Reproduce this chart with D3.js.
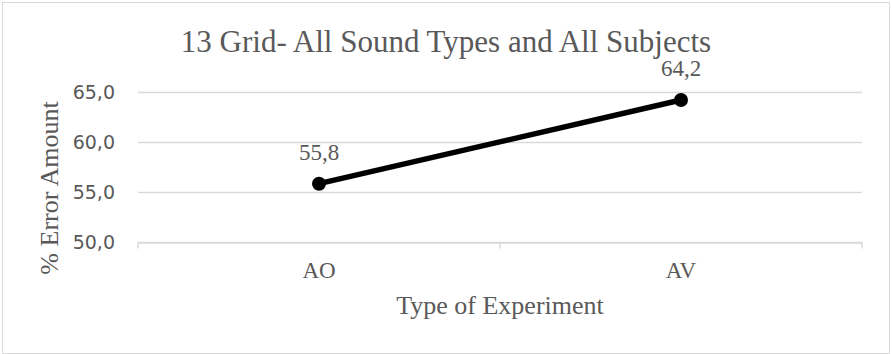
<!DOCTYPE html>
<html>
<head>
<meta charset="utf-8">
<script src="https://cdn.jsdelivr.net/npm/d3@7"></script>
<style>
  html, body { margin: 0; padding: 0; background: #fff; }
  svg { display: block; }
</style>
</head>
<body>
<svg id="chart" width="892" height="354"></svg>
<script>
// Chart data
const categories = ["AO", "AV"];
const values = [55.8, 64.2];
const yTicks = [50, 55, 60, 65];
const titleText = "13 Grid- All Sound Types and All Subjects";
const xTitle = "Type of Experiment";
const yTitle = "% Error Amount";

const W = 892, H = 354;
const plot = { left: 138, right: 862, top: 92, bottom: 241.5 };
const serif = "'Liberation Serif', 'Times New Roman', serif";
const sans = "'DejaVu Sans', Verdana, sans-serif";
const textColor = "#595959";
const gridColor = "#d9d9d9";

const svg = d3.select("#chart");

// Chart area frame
svg.append("rect")
  .attr("x", 2.5).attr("y", 2.5)
  .attr("width", W - 5).attr("height", H - 3)
  .attr("fill", "#fff").attr("stroke", gridColor).attr("stroke-width", 1);

const x = d3.scaleBand().domain(categories).range([plot.left, plot.right]);
const y = d3.scaleLinear().domain([50, 65]).range([plot.bottom, plot.top]);

// Horizontal gridlines
svg.append("g").selectAll("line").data(yTicks).join("line")
  .attr("x1", plot.left).attr("x2", plot.right)
  .attr("y1", d => Math.round(y(d)) + 0.5).attr("y2", d => Math.round(y(d)) + 0.5)
  .attr("stroke", gridColor).attr("stroke-width", 1.5);

// Category axis with tick marks between categories
const xAxis = d3.axisBottom(x).tickSize(0).tickPadding(0).tickFormat("");
const gx = svg.append("g")
  .attr("transform", `translate(0,${Math.round(y(50)) + 0.5})`)
  .call(xAxis);
gx.select(".domain").attr("stroke", gridColor).attr("stroke-width", 1.5);
const boundaries = [plot.left, ...categories.map(c => x(c) + x.bandwidth())];
gx.selectAll("line.sep").data(boundaries).join("line")
  .attr("class", "sep")
  .attr("x1", d => d).attr("x2", d => d)
  .attr("y1", 0).attr("y2", 6)
  .attr("stroke", gridColor).attr("stroke-width", 1.5);

// Category labels
svg.append("g").selectAll("text").data(categories).join("text")
  .attr("x", d => x(d) + x.bandwidth() / 2)
  .attr("y", 278)
  .attr("text-anchor", "middle")
  .attr("font-family", serif).attr("font-size", 23)
  .attr("fill", textColor)
  .text(d => d);

// Value axis labels
const yAxis = d3.axisLeft(y).tickValues(yTicks).tickSize(0).tickPadding(0)
  .tickFormat(d => d3.format(".1f")(d).replace(".", ","));
const gy = svg.append("g").attr("transform", `translate(${plot.left - 23},0)`).call(yAxis);
gy.select(".domain").remove();
gy.selectAll("text")
  .attr("font-family", sans).attr("font-size", 19)
  .attr("fill", textColor).attr("dy", "0.36em");

// Series line and markers
const line = d3.line()
  .x((d, i) => x(categories[i]) + x.bandwidth() / 2)
  .y(d => y(d));
svg.append("path").datum(values)
  .attr("d", line)
  .attr("fill", "none").attr("stroke", "#000")
  .attr("stroke-width", 5.5).attr("stroke-linecap", "round");

svg.append("g").selectAll("circle").data(values).join("circle")
  .attr("cx", (d, i) => x(categories[i]) + x.bandwidth() / 2)
  .attr("cy", d => y(d))
  .attr("r", 7)
  .attr("fill", "#000");

// Value labels
svg.append("g").selectAll("text").data(values).join("text")
  .attr("x", (d, i) => x(categories[i]) + x.bandwidth() / 2)
  .attr("y", d => y(d) - 24)
  .attr("text-anchor", "middle")
  .attr("font-family", serif).attr("font-size", 23)
  .attr("fill", textColor)
  .text(d => d3.format(".1f")(d).replace(".", ","));

// Title
svg.append("text")
  .attr("x", 446).attr("y", 52)
  .attr("text-anchor", "middle")
  .attr("font-family", serif).attr("font-size", 31)
  .attr("fill", textColor)
  .text(titleText);

// Axis titles
svg.append("text")
  .attr("x", (plot.left + plot.right) / 2).attr("y", 314)
  .attr("text-anchor", "middle")
  .attr("font-family", serif).attr("font-size", 26)
  .attr("fill", textColor)
  .text(xTitle);

svg.append("text")
  .attr("transform", "translate(58,188) rotate(-90)")
  .attr("text-anchor", "middle")
  .attr("font-family", serif).attr("font-size", 26)
  .attr("fill", textColor)
  .text(yTitle);
</script>
</body>
</html>
